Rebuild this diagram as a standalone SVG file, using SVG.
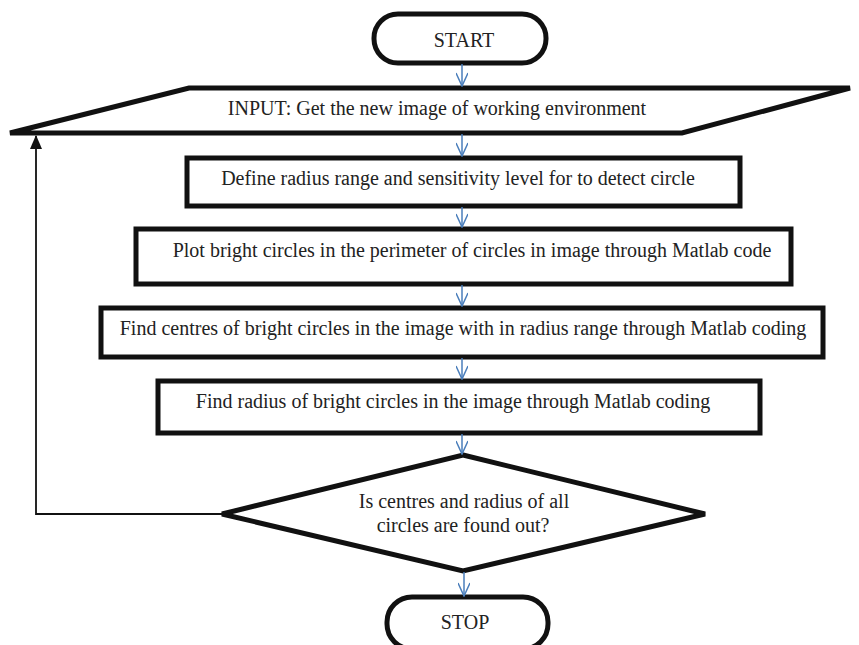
<svg xmlns="http://www.w3.org/2000/svg" width="859" height="645" viewBox="0 0 859 645">
<defs>
<style>
.sh{fill:#fff;stroke:#111;stroke-width:5}
.t{font-family:'Liberation Serif','DejaVu Serif',serif;font-size:20px;fill:#222;text-anchor:middle}
.ba{stroke:#4a7ebb;stroke-width:1.5;fill:none}
</style>
<marker id="va" viewBox="0 0 16 12" refX="15" refY="6" markerWidth="16" markerHeight="12" markerUnits="userSpaceOnUse" orient="auto">
<path d="M2,0 L15,6 L2,12" fill="none" stroke="#4a7ebb" stroke-width="1.5"/>
</marker>
<marker id="ka" viewBox="0 0 14 12" refX="13" refY="6" markerWidth="14" markerHeight="12" markerUnits="userSpaceOnUse" orient="auto">
<path d="M0,0 L14,6 L0,12 Z" fill="#111"/>
</marker>
</defs>
<g id="start"><rect class="sh" x="374" y="14" width="172" height="49" rx="24"/><text class="t" x="464" y="47">START</text></g>
<g id="input"><path class="sh" d="M189,88 L850,88 L682,133 L10,133 Z"/><text class="t" x="437" y="115">INPUT: Get the new image of working environment</text></g>
<g id="define"><rect class="sh" x="187" y="158" width="553" height="48"/><text class="t" x="458" y="185">Define radius range and sensitivity level for to detect circle</text></g>
<g id="plot"><rect class="sh" x="136" y="229" width="655" height="55"/><text class="t" x="472" y="257">Plot bright circles in the perimeter of circles in image through Matlab code</text></g>
<g id="centres"><rect class="sh" x="101" y="308" width="722" height="49"/><text class="t" x="463" y="335">Find centres of bright circles in the image with in radius range through Matlab coding</text></g>
<g id="radius"><rect class="sh" x="158" y="381" width="602" height="52"/><text class="t" x="453" y="408">Find radius of bright circles in the image through Matlab coding</text></g>
<g id="decision"><path class="sh" d="M463,455 L705,514 L463,571 L222,514 Z"/><text class="t" x="464" y="508">Is centres and radius of all</text><text class="t" x="463" y="532">circles are found out?</text></g>
<g id="stop"><rect class="sh" x="387" y="597" width="161" height="52" rx="25"/><text class="t" x="465" y="629">STOP</text></g>
<g id="connectors">
<line class="ba" x1="462" y1="64" x2="462" y2="86" marker-end="url(#va)"/>
<line class="ba" x1="462" y1="134" x2="462" y2="156" marker-end="url(#va)"/>
<line class="ba" x1="462" y1="207" x2="462" y2="227" marker-end="url(#va)"/>
<line class="ba" x1="462" y1="285" x2="462" y2="306" marker-end="url(#va)"/>
<line class="ba" x1="462" y1="358" x2="462" y2="379" marker-end="url(#va)"/>
<line class="ba" x1="462" y1="434" x2="462" y2="454" marker-end="url(#va)"/>
<line class="ba" x1="464" y1="572" x2="464" y2="596" marker-end="url(#va)"/>
<path d="M222,514 L36,514 L36,136" fill="none" stroke="#111" stroke-width="1.8" marker-end="url(#ka)"/>
</g>
</svg>
